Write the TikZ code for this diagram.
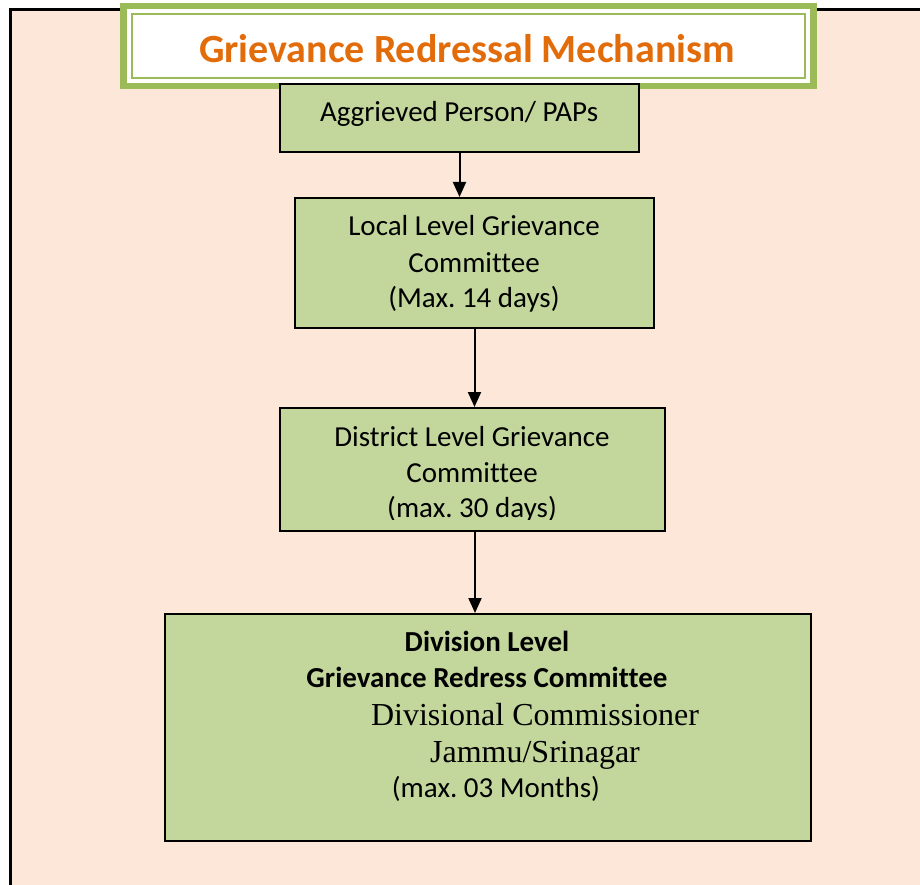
\documentclass[tikz,border=0pt]{standalone}
\usepackage{fontspec}
\setmainfont{Carlito}[Ligatures=NoCommon]
\newfontfamily\tnr{Liberation Serif}
\usetikzlibrary{arrows.meta}
\frenchspacing
\definecolor{peach}{HTML}{FCE7D8}
\definecolor{boxgreen}{HTML}{C3D69B}
\definecolor{titlegreen}{HTML}{9BBB59}
\definecolor{titleorange}{HTML}{E36C0A}
\tikzset{
  stepbox/.style={draw=black, line width=2pt, fill=boxgreen, rectangle, inner sep=0pt, anchor=north west},
  txt/.style={anchor=base, inner sep=0pt, font=\fontsize{29}{35}\selectfont},
  serif/.style={anchor=base, inner sep=0pt, font=\tnr\fontsize{32}{38}\selectfont},
  arr/.style={line width=2pt, -{Triangle[width=13pt,length=15pt]}}
}
\begin{document}
\begin{tikzpicture}[x=1pt,y=-1pt]
\useasboundingbox (0,0) rectangle (920,885);
\fill[white] (0,0) rectangle (920,885);
\fill[peach] (10,10) rectangle (920,885);
\draw[line width=3pt] (10.5,885) -- (10.5,9.5) -- (920,9.5);
% title
\fill[titlegreen] (120,3) rectangle (817,89);
\fill[white] (127,9) rectangle (810,83);
\draw[titlegreen, line width=1.8pt] (132,14) rectangle (805,78);
\node[anchor=base, inner sep=0pt, font=\bfseries\fontsize{40}{48}\selectfont, text=titleorange] (title) at (467,63) {Grievance Redressal Mechanism};
% boxes
\node[stepbox, minimum width=359pt, minimum height=68pt] (b1) at (279,83) {};
\node[stepbox, minimum width=359pt, minimum height=130pt] (b2) at (294,197) {};
\node[stepbox, minimum width=385pt, minimum height=123pt] (b3) at (279,407) {};
\node[stepbox, minimum width=646pt, minimum height=227pt] (b4) at (164,613) {};
% texts
\node[txt] (t1) at (459,122) {Aggrieved Person/ PAPs};
\node[txt] (t2a) at (474,236) {Local Level Grievance};
\node[txt] (t2b) at (474,272) {Committee};
\node[txt] (t2c) at (474,307) {(Max. 14 days)};
\node[txt] (t3a) at (472,446) {District Level Grievance};
\node[txt] (t3b) at (472,482) {Committee};
\begin{scope}
\clip (279,407) rectangle (664,519);
\node[txt] (t3c) at (472,517) {(max. 30 days)};
\end{scope}
\node[txt, font=\bfseries\fontsize{29}{35}\selectfont] (t4a) at (487,651) {Division Level};
\node[txt, font=\bfseries\fontsize{29}{35}\selectfont] (t4b) at (487,687) {Grievance Redress Committee};
\node[serif] (t4c) at (535,725) {Divisional Commissioner};
\node[serif] (t4d) at (535,762) {Jammu/Srinagar};
\node[txt] (t4e) at (496,797) {(max. 03 Months)};
% arrows
\draw[arr] (b1.south) -- (b1.south |- b2.north);
\draw[arr] (b2.south) -- (b2.south |- b3.north);
\draw[arr] ([xshift=2.5pt]b3.south) -- ([xshift=2.5pt]b3.south |- b4.north);
\end{tikzpicture}
\end{document}
